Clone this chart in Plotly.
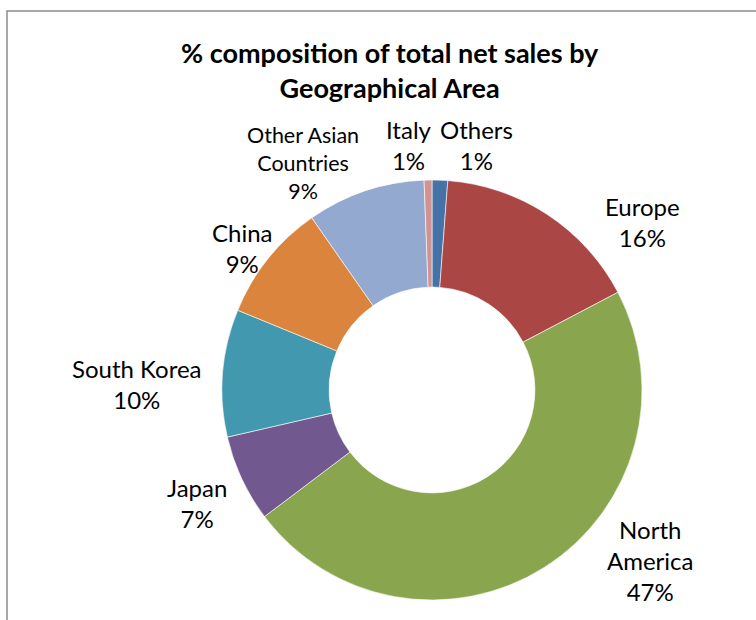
import plotly.graph_objects as go

categories = ["Others", "Europe", "North America", "Japan", "South Korea",
              "China", "Other Asian Countries", "Italy"]
display_labels = ["Others", "Europe", "North<br>America", "Japan", "South Korea",
                  "China", "Other Asian<br>Countries", "Italy"]
shares = [1.2, 16.1, 47.4, 6.7, 9.8, 9.1, 9.1, 0.6]
colors = ["#4572A7", "#AA4643", "#89A54E", "#71588F", "#4198AF",
          "#DB843D", "#93A9CF", "#D19392"]

# layout of the (manually placed) data labels, in pixels of the 756x620 canvas
label_centers = [(476, 145), (642, 222), (650, 560), (197, 503), (137, 384),
                 (242, 248), (303, 163), (409, 145)]
label_sizes = [24, 24, 24, 24, 24, 24, 21.5, 24]

W, H = 756, 620
cx, cy, r = 432, 390, 210

fig = go.Figure(go.Pie(
    labels=categories,
    values=shares,
    textinfo="none",
    marker=dict(colors=colors, line=dict(color="#FFFFFF", width=0.6)),
    hole=0.49,
    sort=False,
    direction="clockwise",
    rotation=0,
    showlegend=False,
    domain=dict(x=[(cx - r) / W, (cx + r) / W],
                y=[1 - (cy + r) / H, 1 - (cy - r) / H]),
))

total = sum(shares)
annotations = []
for name, val, (lx, ly), fs in zip(display_labels, shares, label_centers, label_sizes):
    annotations.append(dict(
        text=f"{name}<br>{round(val / total * 100):.0f}%",
        xref="paper", yref="paper", x=lx / W, y=1 - ly / H,
        xanchor="center", yanchor="middle", align="center", showarrow=False,
        font=dict(family="Lato", size=fs, color="#000000")))

annotations.append(dict(
    text="<b>% composition of total net sales by<br>Geographical Area</b>",
    xref="paper", yref="paper", x=390 / W, y=1 - 70 / H,
    xanchor="center", yanchor="middle", showarrow=False,
    font=dict(family="Lato", size=27, color="#000000")))

fig.update_layout(
    width=W, height=H,
    margin=dict(l=0, r=0, t=0, b=0),
    paper_bgcolor="#FFFFFF",
    annotations=annotations,
    shapes=[dict(type="rect", xref="paper", yref="paper",
                 x0=7 / W, x1=1.05, y0=-0.05, y1=1 - 11 / H,
                 line=dict(color="#8C8C8C", width=1.5), fillcolor="rgba(0,0,0,0)")],
)

fig.write_html("out.html")
